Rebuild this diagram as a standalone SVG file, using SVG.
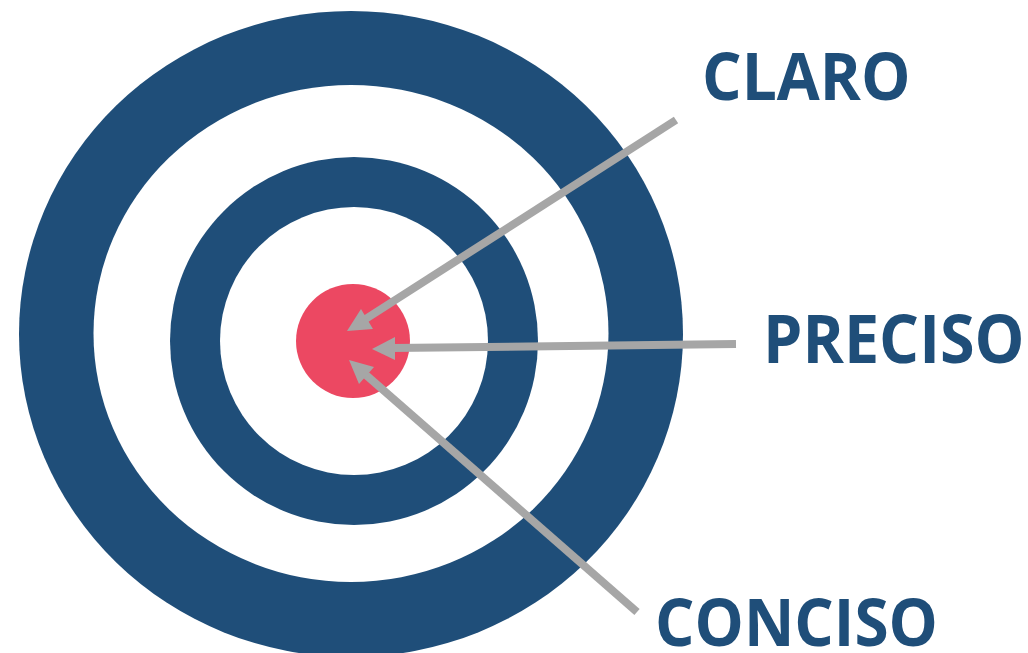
<svg xmlns="http://www.w3.org/2000/svg" width="1028" height="653" viewBox="0 0 1028 653">
<style>
.lbl{font-family:"Open Sans","Liberation Sans",sans-serif;font-weight:700;font-size:66px;fill:#1f4e79}
.c{stroke:#a6a6a6;stroke-width:8;fill:none}
.h{fill:#a6a6a6}
</style>
<rect width="1028" height="653" fill="#fff"/>
<g id="target">
<ellipse cx="351" cy="334" rx="332" ry="323" fill="#1f4e79"/>
<ellipse cx="351" cy="333.500" rx="257.500" ry="248.500" fill="#fff"/>
<circle cx="354" cy="341" r="184" fill="#1f4e79"/>
<circle cx="354" cy="341" r="134" fill="#fff"/>
<circle cx="353" cy="341" r="57" fill="#ec4862"/>
</g>
<g id="connectors">
<line class="c" x1="676" y1="120" x2="364" y2="320"/>
<polygon class="h" points="347,331 361,309 373,329"/>
<line class="c" x1="736" y1="344" x2="392" y2="348"/>
<polygon class="h" points="372,349 395,337 395,360"/>
<line class="c" x1="637" y1="612" x2="366" y2="375"/>
<polygon class="h" points="349,360 374,367 359,384"/>
</g>
<g id="claro"><text class="lbl" transform="translate(702 100) scale(.944 1)">CLARO</text></g>
<g id="preciso"><text class="lbl" transform="translate(763 363) scale(.952 1)">PRECISO</text></g>
<g id="conciso"><text class="lbl" transform="translate(655 646) scale(.94 1)">CONCISO</text></g>
</svg>
